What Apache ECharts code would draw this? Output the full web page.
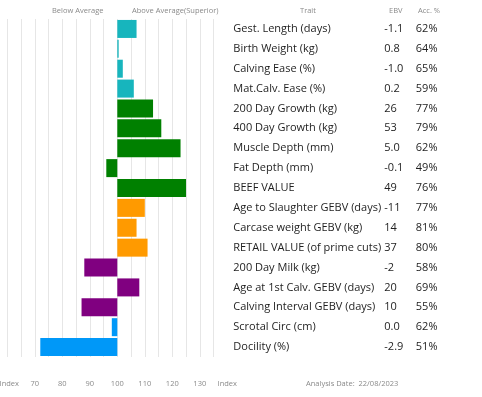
<!DOCTYPE html>
<html>
<head>
<meta charset="utf-8">
<script src="https://cdn.jsdelivr.net/npm/echarts@6/dist/echarts.min.js"></script>
<style>
  html, body { margin: 0; padding: 0; background: #fff; }
  #chart { width: 482px; height: 397px; }
</style>
</head>
<body>
<div id="chart"></div>
<script>
// trait rows, top to bottom
const traits = [
    'Gest. Length (days)', 'Birth Weight (kg)', 'Calving Ease (%)', 'Mat.Calv. Ease (%)',
    '200 Day Growth (kg)', '400 Day Growth (kg)', 'Muscle Depth (mm)', 'Fat Depth (mm)',
    'BEEF VALUE', 'Age to Slaughter GEBV (days)', 'Carcase weight GEBV (kg)',
    'RETAIL VALUE (of prime cuts)', '200 Day Milk (kg)', 'Age at 1st Calv. GEBV (days)',
    'Calving Interval GEBV (days)', 'Scrotal Circ (cm)', 'Docility (%)'
];
const ebv = ['-1.1', '0.8', '-1.0', '0.2', '26', '53', '5.0', '-0.1', '49', '-11', '14', '37', '-2', '20', '10', '0.0', '-2.9'];
const accuracy = ['62%', '64%', '65%', '59%', '77%', '79%', '62%', '49%', '76%', '77%', '81%', '80%', '58%', '69%', '55%', '62%', '51%'];
// index values (100 = breed average)
const indexValues = [107, 100.5, 102, 106, 113, 116, 123, 96, 125, 110, 107, 111, 88, 108, 87, 98, 72];
const groups = ['calving', 'calving', 'calving', 'calving', 'growth', 'growth', 'growth', 'growth', 'growth',
    'carcase', 'carcase', 'carcase', 'maternal', 'maternal', 'maternal', 'other', 'other'];
const groupColors = { calving: '#17b5bd', growth: '#008000', carcase: '#ff9a00', maternal: '#800080', other: '#0098f8' };
const axisTicks = [70, 80, 90, 100, 110, 120, 130];

const BASE = 100;
const chart = echarts.init(document.getElementById('chart'));
const font = '"Open Sans", sans-serif';

// 17 split lines from 60 to 140, last one hidden
const splitColors = [];
for (let i = 0; i < 17; i++) splitColors.push(i === 16 ? 'rgba(0,0,0,0)' : '#e6e6e6');

const smallGrey = { fontFamily: font, fontSize: 7.5, fill: '#8a8a8a' };
const cellLabel = { align: 'left', color: '#1e1e1e', fontFamily: font, fontSize: 11 };

const option = {
    animation: false,
    grid: { left: 7.3, right: 254.7, top: 19, bottom: 40, outerBoundsMode: 'none', containLabel: false },
    xAxis: {
        type: 'value',
        min: -40,
        max: 40,
        interval: 5,
        axisLine: { show: false },
        axisTick: { show: false },
        splitLine: { show: true, lineStyle: { color: splitColors, width: 1 } },
        axisLabel: {
            interval: 0,
            showMinLabel: true,
            showMaxLabel: true,
            margin: 23,
            color: '#8a8a8a',
            fontFamily: font,
            fontSize: 7.5,
            formatter: function (v) {
                const idx = v + BASE;
                if (v === -40) return '{first|Index}';
                if (v === 40) return 'Index';
                return axisTicks.indexOf(idx) >= 0 ? String(idx) : '';
            },
            rich: {
                first: { padding: [0, 0, 0, 4], color: '#8a8a8a', fontFamily: font, fontSize: 7.5 }
            }
        }
    },
    yAxis: [
        {
            type: 'category',
            data: traits,
            inverse: true,
            position: 'right',
            axisLine: { show: false },
            axisTick: { show: false },
            splitLine: { show: false },
            axisLabel: Object.assign({ margin: 6, interval: 0 }, cellLabel)
        },
        {
            type: 'category',
            data: ebv,
            inverse: true,
            position: 'right',
            offset: 157,
            axisLine: { show: false },
            axisTick: { show: false },
            axisLabel: Object.assign({ margin: 0, interval: 0 }, cellLabel)
        },
        {
            type: 'category',
            data: accuracy,
            inverse: true,
            position: 'right',
            offset: 188.5,
            axisLine: { show: false },
            axisTick: { show: false },
            axisLabel: Object.assign({ margin: 0, interval: 0 }, cellLabel)
        }
    ],
    graphic: [
        { type: 'text', left: 52, top: 7, style: Object.assign({ text: 'Below Average' }, smallGrey) },
        { type: 'text', left: 132, top: 7, style: Object.assign({ text: 'Above Average(Superior)' }, smallGrey) },
        { type: 'text', left: 300, top: 7, style: Object.assign({ text: 'Trait' }, smallGrey) },
        { type: 'text', left: 389, top: 7, style: Object.assign({ text: 'EBV' }, smallGrey) },
        { type: 'text', left: 418, top: 7, style: Object.assign({ text: 'Acc. %' }, smallGrey) },
        { type: 'text', left: 306, top: 380, style: Object.assign({ text: 'Analysis Date:  22/08/2023' }, smallGrey) }
    ],
    series: [
        {
            type: 'bar',
            yAxisIndex: 0,
            barWidth: 18,
            data: indexValues.map((v, i) => ({
                value: v - BASE,
                itemStyle: { color: groupColors[groups[i]] }
            }))
        }
    ]
};

chart.setOption(option);
window.addEventListener('resize', () => chart.resize());
</script>
</body>
</html>
